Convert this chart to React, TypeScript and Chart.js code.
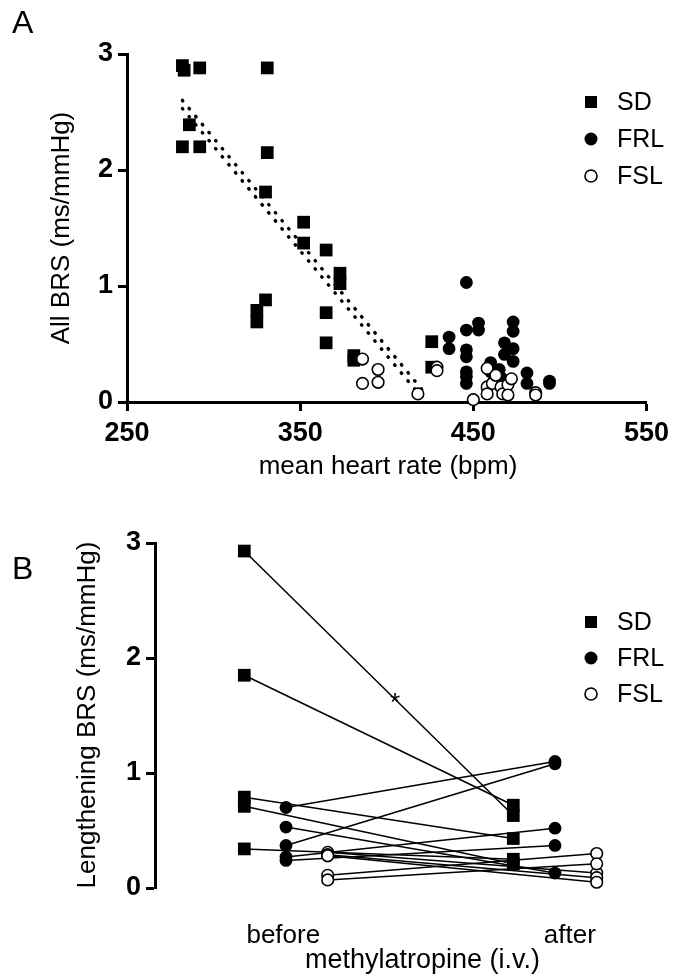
import React, { useEffect, useRef } from "react";
import { Chart, registerables } from "chart.js";

Chart.register(...registerables);

const FONT = '"Liberation Sans", Arial, Helvetica, sans-serif';

// ---------- Panel A data ----------
const sdHeartRate = [282, 283, 292, 331, 286, 282, 292, 331, 330, 352, 352, 365, 373, 373, 330, 325, 325, 365, 365, 381, 381, 426, 426];
const sdAllBRS = [2.9, 2.86, 2.88, 2.88, 2.39, 2.2, 2.2, 2.15, 1.81, 1.55, 1.37, 1.31, 1.11, 1.02, 0.88, 0.79, 0.69, 0.77, 0.51, 0.4, 0.36, 0.52, 0.3];

const frlHeartRate = [436, 436, 446, 446, 446, 446, 446, 446, 446, 453, 453, 460, 460, 462, 465, 466, 468, 468, 473, 473, 473, 473, 481, 481, 494, 494];
const frlAllBRS = [0.56, 0.46, 1.03, 0.62, 0.45, 0.39, 0.26, 0.22, 0.16, 0.68, 0.62, 0.34, 0.26, 0.18, 0.28, 0.21, 0.51, 0.41, 0.69, 0.61, 0.46, 0.35, 0.25, 0.16, 0.18, 0.16];

const fslHeartRate = [386, 395, 386, 395, 418, 429, 429, 450, 458, 458, 458, 461, 463, 466, 467, 470, 470, 472, 486, 486];
const fslAllBRS = [0.37, 0.28, 0.16, 0.17, 0.07, 0.3, 0.27, 0.02, 0.29, 0.13, 0.07, 0.16, 0.23, 0.13, 0.07, 0.15, 0.06, 0.2, 0.08, 0.06];

const fitRightX = [282, 423];
const fitRightY = [2.6, 0.06];
const fitLeftX = [282, 419];
const fitLeftY = [2.53, 0.06];

const xTicksA = [250, 350, 450, 550];
const yTicksBRS = [0, 1, 2, 3];

// ---------- Panel B data ----------
const phases = ["before", "after"];
const sdBefore = [2.93, 1.85, 0.79, 0.71, 0.34];
const sdAfter = [0.63, 0.72, 0.43, 0.21, 0.25];
const frlBefore = [0.7, 0.53, 0.37, 0.27, 0.24];
const frlAfter = [1.1, 0.13, 1.08, 0.52, 0.37];
const fslBefore = [0.31, 0.29, 0.28, 0.11, 0.07];
const fslAfter = [0.13, 0.09, 0.05, 0.3, 0.21];

const groupNames = ["SD", "FRL", "FSL"];

type Item = { text: string; x: number; y: number; font: string; align?: CanvasTextAlign; baseline?: CanvasTextBaseline; rotate?: number };
type LegendRow = { label: string; style: string; x: number; y: number };

const freeText = {
  id: "freeText",
  afterDraw(chart: any, _args: any, opts: any) {
    const ctx: CanvasRenderingContext2D = chart.ctx;
    (opts.items || []).forEach((t: Item) => {
      ctx.save();
      ctx.font = t.font;
      ctx.fillStyle = "#000";
      ctx.textAlign = t.align || "center";
      ctx.textBaseline = t.baseline || "middle";
      ctx.translate(t.x, t.y);
      if (t.rotate) ctx.rotate(t.rotate);
      ctx.fillText(t.text, 0, 0);
      ctx.restore();
    });
    (opts.legend || []).forEach((l: LegendRow) => {
      ctx.save();
      ctx.fillStyle = "#000";
      ctx.strokeStyle = "#000";
      if (l.style === "rect") {
        ctx.fillRect(l.x - 6, l.y - 6, 12, 12);
      } else if (l.style === "filled") {
        ctx.beginPath();
        ctx.arc(l.x, l.y, 6.5, 0, Math.PI * 2);
        ctx.fill();
      } else {
        ctx.lineWidth = 1.6;
        ctx.beginPath();
        ctx.arc(l.x, l.y, 6, 0, Math.PI * 2);
        ctx.stroke();
      }
      ctx.font = `25px ${FONT}`;
      ctx.textAlign = "left";
      ctx.textBaseline = "middle";
      ctx.fillText(l.label, l.x + 26, l.y + 1);
      ctx.restore();
    });
  },
};

const pts = (xs: number[], ys: number[]) => xs.map((x, i) => ({ x, y: ys[i] }));

const markerStyles: any = {
  SD: { pointStyle: "rect", pointRadius: 9, backgroundColor: "#000", borderColor: "#000", borderWidth: 0 },
  FRL: { pointStyle: "circle", pointRadius: 6.4, backgroundColor: "#000", borderColor: "#000", borderWidth: 0 },
  FSL: { pointStyle: "circle", pointRadius: 5.8, backgroundColor: "#fff", borderColor: "#000", borderWidth: 1.6 },
};

const axisCommon = (size: number) => ({
  grid: { display: true, drawOnChartArea: false, drawTicks: true, tickLength: 9, tickWidth: 3, color: "#000" },
  border: { display: true, width: 3, color: "#000" },
  ticks: { color: "#000", font: { family: FONT, size, weight: "bold" }, autoSkip: false, maxRotation: 0 },
});

const dotted = { showLine: true, pointRadius: 0, borderColor: "#000", borderWidth: 3.4, borderDash: [0.6, 9.8], borderCapStyle: "round", clip: false };

function PanelA() {
  const ref = useRef<HTMLCanvasElement>(null);
  useEffect(() => {
    const legendX = 591;
    const chart = new Chart(ref.current as HTMLCanvasElement, {
      type: "scatter",
      data: {
        datasets: [
          { label: "FSL", data: pts(fslHeartRate, fslAllBRS), ...markerStyles.FSL, clip: false },
          { label: "FRL", data: pts(frlHeartRate, frlAllBRS), ...markerStyles.FRL, clip: false },
          { label: "SD", data: pts(sdHeartRate, sdAllBRS), ...markerStyles.SD, clip: false },
          { label: "fit1", data: pts(fitRightX, fitRightY), ...dotted },
          { label: "fit2", data: pts(fitLeftX, fitLeftY), ...dotted },
        ] as any,
      },
      options: {
        animation: false,
        responsive: false,
        devicePixelRatio: 1,
        events: [],
        layout: { padding: { left: 0, top: 54, right: 25, bottom: 0 } },
        plugins: {
          legend: { display: false },
          tooltip: { enabled: false },
          freeText: {
            items: [
              { text: "A", x: 12, y: 33, font: `32px ${FONT}`, align: "left", baseline: "alphabetic" },
              { text: "All BRS (ms/mmHg)", x: 62, y: 228, font: `26px ${FONT}`, rotate: -Math.PI / 2 },
              { text: "mean heart rate (bpm)", x: 388, y: 467, font: `26px ${FONT}` },
            ],
            legend: groupNames.map((g, i) => ({ label: g, style: ["rect", "filled", "open"][i], x: legendX, y: 102 + i * 37 })),
          },
        } as any,
        scales: {
          x: {
            type: "linear",
            min: 250,
            max: 550,
            ...axisCommon(27),
            ticks: { ...axisCommon(27).ticks, padding: 6 },
            afterBuildTicks: (s: any) => { s.ticks = xTicksA.map((v) => ({ value: v })); },
            afterFit: (s: any) => { s.height = 88; },
          },
          y: {
            type: "linear",
            min: 0,
            max: 3,
            ...axisCommon(27),
            ticks: { ...axisCommon(27).ticks, padding: 5 },
            afterBuildTicks: (s: any) => { s.ticks = yTicksBRS.map((v) => ({ value: v })); },
            afterFit: (s: any) => { s.width = 127; },
          },
        } as any,
      },
      plugins: [freeText],
    });
    return () => chart.destroy();
  }, []);
  return <canvas ref={ref} width={675} height={490} style={{ position: "absolute", left: 0, top: 0 }} />;
}

function PanelB() {
  const ref = useRef<HTMLCanvasElement>(null);
  useEffect(() => {
    const groups = [
      { name: "SD", before: sdBefore, after: sdAfter, offset: -0.155 },
      { name: "FRL", before: frlBefore, after: frlAfter, offset: 0 },
      { name: "FSL", before: fslBefore, after: fslAfter, offset: 0.155 },
    ];
    const markerSets: any[] = [];
    const lineSets: any[] = [];
    groups.slice().reverse().forEach((g) => {
      const data = [
        ...g.before.map((v) => ({ x: 0 + g.offset, y: v })),
        ...g.after.map((v) => ({ x: 1 + g.offset, y: v })),
      ];
      markerSets.push({ label: g.name, data, ...markerStyles[g.name], clip: false });
    });
    groups.forEach((g) => {
      g.before.forEach((v, i) => {
        lineSets.push({
          label: `${g.name}-${i}`,
          data: [{ x: 0 + g.offset, y: v }, { x: 1 + g.offset, y: g.after[i] }],
          showLine: true,
          pointRadius: 0,
          borderColor: "#000",
          borderWidth: 1.5,
          clip: false,
        });
      });
    });
    const legendX = 591;
    const chart = new Chart(ref.current as HTMLCanvasElement, {
      type: "scatter",
      data: { datasets: [...markerSets, ...lineSets] },
      options: {
        animation: false,
        responsive: false,
        devicePixelRatio: 1,
        events: [],
        layout: { padding: { left: 0, top: 53, right: 35, bottom: 0 } },
        plugins: {
          legend: { display: false },
          tooltip: { enabled: false },
          freeText: {
            items: [
              { text: "B", x: 12, y: 89, font: `32px ${FONT}`, align: "left", baseline: "alphabetic" },
              { text: "Lengthening BRS (ms/mmHg)", x: 88, y: 225, font: `26px ${FONT}`, rotate: -Math.PI / 2 },
              { text: "methylatropine (i.v.)", x: 305, y: 471, font: `27px ${FONT}`, align: "left" },
              { text: "*", x: 395, y: 214, font: `26px ${FONT}` },
            ],
            legend: groupNames.map((g, i) => ({ label: g, style: ["rect", "filled", "open"][i], x: legendX, y: 132 + i * 36 })),
          },
        } as any,
        scales: {
          x: {
            type: "linear",
            min: -0.487,
            max: 1.316,
            grid: { display: false },
            border: { display: false },
            ticks: {
              color: "#000",
              font: { family: FONT, size: 26 },
              padding: 24,
              autoSkip: false,
              maxRotation: 0,
              callback: (v: any, i: number) => phases[i],
            },
            afterBuildTicks: (s: any) => { s.ticks = [{ value: -0.01 }, { value: 1.055 }]; },
            afterFit: (s: any) => { s.height = 88; },
          },
          y: {
            type: "linear",
            min: 0,
            max: 3,
            ...axisCommon(27),
            ticks: { ...axisCommon(27).ticks, padding: 5 },
            afterBuildTicks: (s: any) => { s.ticks = yTicksBRS.map((v) => ({ value: v })); },
            afterFit: (s: any) => { s.width = 155; },
          },
        } as any,
      },
      plugins: [freeText],
    });
    return () => chart.destroy();
  }, []);
  return <canvas ref={ref} width={675} height={486} style={{ position: "absolute", left: 0, top: 490 }} />;
}

export default function App() {
  return (
    <div style={{ position: "absolute", left: 0, top: 0, width: 675, height: 976, background: "#fff" }}>
      <PanelA />
      <PanelB />
    </div>
  );
}
